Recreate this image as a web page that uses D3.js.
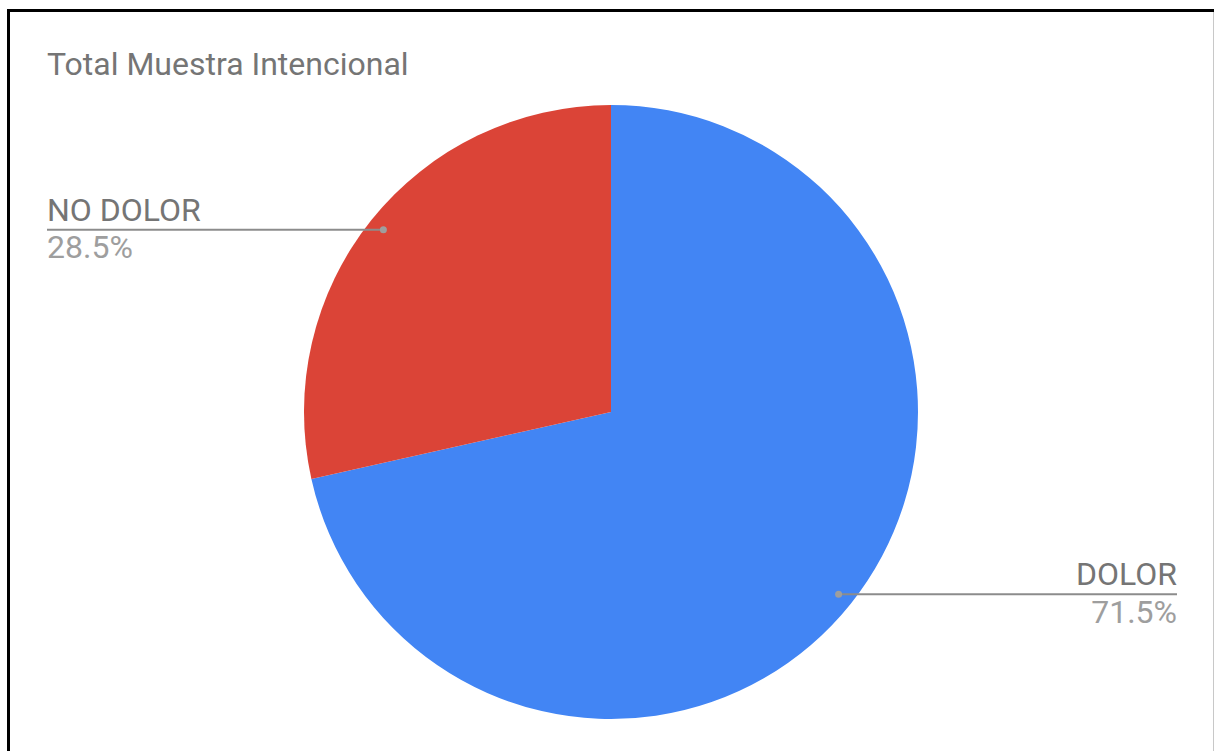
<!DOCTYPE html>
<html>
<head>
<meta charset="utf-8">
<script src="https://cdn.jsdelivr.net/npm/d3@7"></script>
<style>
  html, body { margin: 0; padding: 0; background: #fff; }
  svg { display: block; font-family: Roboto, "Noto Sans", sans-serif; }
</style>
</head>
<body>
<div id="chart"></div>
<script>
// data
const categories = ["DOLOR", "NO DOLOR"];
const values = [71.5, 28.5];
const colors = ["#4285f4", "#db4437"];
const title = "Total Muestra Intencional";

const width = 1214, height = 751;
const cx = 611, cy = 412, radius = 307;

const svg = d3.select("#chart")
  .append("svg")
  .attr("width", width)
  .attr("height", height);

svg.append("rect")
  .attr("width", width)
  .attr("height", height)
  .attr("fill", "#fff");

// frame
svg.append("line")
  .attr("x1", 7).attr("x2", width).attr("y1", 10.5).attr("y2", 10.5)
  .attr("stroke", "#000").attr("stroke-width", 3);
svg.append("line")
  .attr("x1", 8.5).attr("x2", 8.5).attr("y1", 9).attr("y2", height)
  .attr("stroke", "#000").attr("stroke-width", 3);
svg.append("line")
  .attr("x1", 1213.5).attr("x2", 1213.5).attr("y1", 12).attr("y2", height)
  .attr("stroke", "#c8c8c8").attr("stroke-width", 1);

svg.append("text")
  .attr("x", 47)
  .attr("y", 75)
  .attr("fill", "#757575")
  .style("font-size", "32px")
  .text(title);

const pieData = d3.pie().sort(null)(values);
const arc = d3.arc().innerRadius(0).outerRadius(radius);
const dotArc = d3.arc().innerRadius(radius * 0.95).outerRadius(radius * 0.95);

const g = svg.append("g").attr("transform", `translate(${cx},${cy})`);

g.selectAll("path.slice")
  .data(pieData)
  .enter().append("path")
  .attr("class", "slice")
  .attr("d", arc)
  .attr("fill", (d, i) => colors[i]);

// labels with leader lines
const labelLeft = 47, labelRight = 1177;
pieData.forEach((d, i) => {
  const [px, py] = dotArc.centroid(d);
  const x = cx + px, y = cy + py;
  const onRight = x > cx;
  const tx = onRight ? labelRight : labelLeft;
  const anchor = onRight ? "end" : "start";

  svg.append("line")
    .attr("x1", x).attr("y1", y)
    .attr("x2", tx).attr("y2", y)
    .attr("stroke", "#8c8c8c")
    .attr("stroke-width", 2);
  svg.append("circle")
    .attr("cx", x).attr("cy", y).attr("r", 3.5)
    .attr("fill", "#9e9e9e");

  svg.append("text")
    .attr("x", tx).attr("y", y - 9)
    .attr("text-anchor", anchor)
    .attr("fill", "#757575")
    .style("font-size", "32px")
    .text(categories[i]);
  svg.append("text")
    .attr("x", tx).attr("y", y + 28.5)
    .attr("text-anchor", anchor)
    .attr("fill", "#9e9e9e")
    .style("font-size", "32px")
    .text(d3.format(".1f")(values[i]) + "%");
});
</script>
</body>
</html>
